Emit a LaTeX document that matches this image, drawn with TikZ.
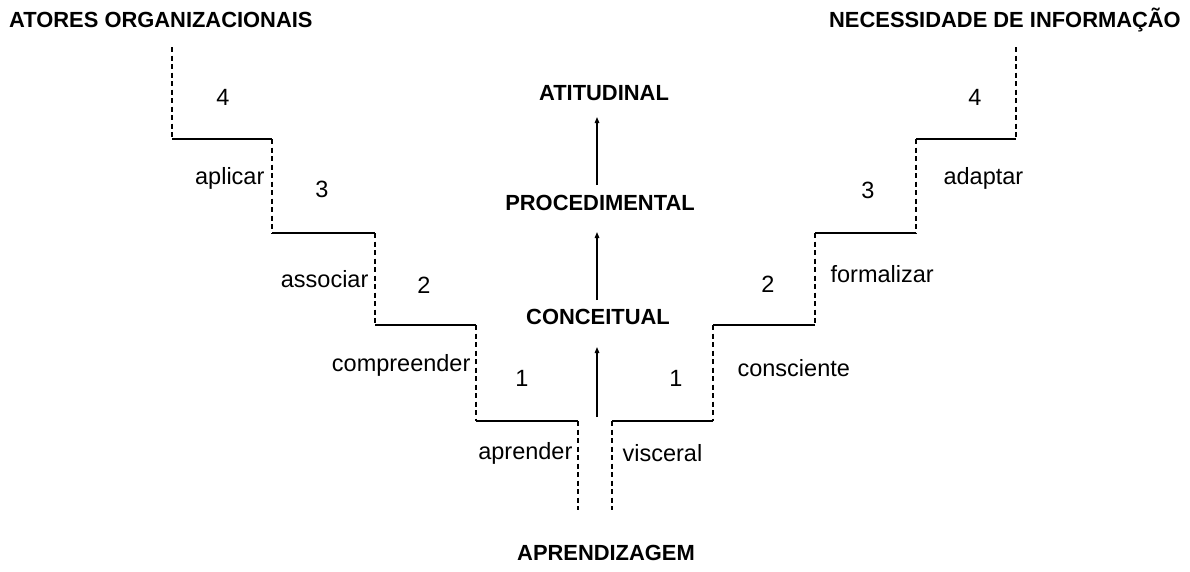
\documentclass[tikz,border=0pt]{standalone}
\usepackage{fontspec}
\setmainfont{Liberation Sans}
\usetikzlibrary{arrows.meta}
\tikzset{
  tread/.style={line width=1.3pt},
  riser/.style={line width=1.2pt, dash pattern=on 5pt off 3.5pt},
  lvl/.style={font=\fontsize{21.9}{24}\selectfont\bfseries, inner sep=0pt},
  word/.style={font=\fontsize{23.5}{26}\selectfont, inner sep=0pt},
  up/.style={line width=1.3pt, -{Triangle[length=6pt,width=4.5pt]}}
}
\begin{document}
\begin{tikzpicture}[x=1pt,y=-1pt]
\useasboundingbox (0,0) rectangle (1190,571);
% titles:
\node[lvl, anchor=west] (atores) at (9,20) {ATORES ORGANIZACIONAIS};
\node[lvl, anchor=east] (necess) at (1181,20) {NECESSIDADE DE INFORMAÇÃO};
\node[lvl] (apren) at (606,553) {APRENDIZAGEM};
% left stairs:
\draw[riser] (172,47) -- (172,139);
\draw[tread] (172,139) -- (272,139);
\draw[riser] (272,139) -- (272,233)node[word, pos=0.42, left=7pt] (aplicar) {aplicar};
\draw[tread] (272,233) -- (375,233);
\draw[riser] (375,233) -- (375,325)node[word, pos=0.5, left=6pt] (assoc) {associar};
\draw[tread] (375,325) -- (476,325);
\draw[riser] (476,325) -- (476,421)node[word, pos=0.42, left=5pt] (compr) {compreender};
\draw[tread] (476,421) -- (578,421);
\draw[riser] (578,421) -- (578,510)node[word, pos=0.36, left=5pt] (aprender) {aprender};
\node[word] (l4) at (223,97) {4};
\node[word] (l3) at (322,189) {3};
\node[word] (l2) at (424,285) {2};
\node[word] (l1) at (522,378) {1};
% right stairs:
\draw[riser] (1016,47) -- (1016,139);
\draw[tread] (1016,139) -- (916,139);
\draw[riser] (916,139) -- (916,233)node[word, pos=0.42, right=27pt] (adaptar) {adaptar};
\draw[tread] (916,233) -- (815,233);
\draw[riser] (815,233) -- (815,325)node[word, pos=0.45, right=15pt] (formal) {formalizar};
\draw[tread] (815,325) -- (713,325);
\draw[riser] (713,325) -- (713,421)node[word, pos=0.45, right=24pt] (consc) {consciente};
\draw[tread] (713,421) -- (612,421);
\draw[riser] (612,421) -- (612,510)node[word, pos=0.36, right=10pt] (visc) {visceral};
\node[word] (r4) at (975,97) {4};
\node[word] (r3) at (868,190) {3};
\node[word] (r2) at (768,284) {2};
\node[word] (r1) at (676,378) {1};
% levels:
\node[lvl] (conc) at (598,317) {CONCEITUAL};
\node[lvl] (proc) at (600,203) {PROCEDIMENTAL};
\node[lvl] (atit) at (604,93) {ATITUDINAL};
\coordinate (base) at (597,417);
\draw[up] (base) -- (597,347);
\draw[up] (conc.north -| base) ++(0,-9) -- (597,232);
\draw[up] (proc.north -| base) ++(0,-10) -- (597,117);
\end{tikzpicture}
\end{document}
